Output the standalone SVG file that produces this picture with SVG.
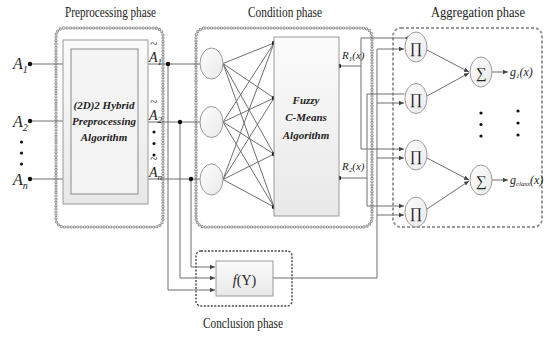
<svg xmlns="http://www.w3.org/2000/svg" width="547" height="337" viewBox="0 0 547 337">
<defs>
<linearGradient id="gbox" x1="0" y1="0" x2="0" y2="1">
<stop offset="0" stop-color="#fbfbfb"/><stop offset="1" stop-color="#e8e8e8"/>
</linearGradient>
<linearGradient id="gnode" x1="0" y1="0" x2="1" y2="1">
<stop offset="0" stop-color="#fdfdfd"/><stop offset="1" stop-color="#e9e9e9"/>
</linearGradient>
<marker id="arr" markerWidth="6" markerHeight="6" refX="5" refY="3" orient="auto" markerUnits="userSpaceOnUse">
<path d="M0,0.8 L5,3 L0,5.2 Z" fill="#444"/>
</marker>
</defs>
<style>
.lbl{font-family:"Liberation Serif","Times New Roman",serif;font-size:14px;fill:#222}
.it{font-family:"Liberation Serif","Times New Roman",serif;font-style:italic;fill:#222}
.bi{font-family:"Liberation Serif","Times New Roman",serif;font-style:italic;font-weight:bold;font-size:11px;fill:#222}
.sym{font-family:"Liberation Serif","DejaVu Serif",serif;font-size:15px;fill:#222}
.ln{stroke:#6e6e6e;stroke-width:1;fill:none}
.ring1{fill:none;stroke:#8c8c8c;stroke-width:3.2;stroke-dasharray:0 3.3;stroke-linecap:round}
.ring2{fill:none;stroke:#fff;stroke-width:1.3;stroke-dasharray:0 3.3;stroke-linecap:round}
.node{fill:url(#gnode);stroke:#9a9a9a;stroke-width:1}
.dot{fill:#111}
</style>

<!-- phase containers -->
<g id="preprocessing-phase">
<rect x="56" y="28" width="107" height="199" rx="8" class="ring1"/>
<rect x="56" y="28" width="107" height="199" rx="8" class="ring2"/>
<text class="lbl" x="110.5" y="17" text-anchor="middle" textLength="91" lengthAdjust="spacingAndGlyphs">Preprocessing phase</text>
</g>
<g id="condition-phase">
<rect x="196" y="28" width="176" height="199" rx="9" class="ring1"/>
<rect x="196" y="28" width="176" height="199" rx="9" class="ring2"/>
<text class="lbl" x="285" y="16.5" text-anchor="middle" textLength="74" lengthAdjust="spacingAndGlyphs">Condition phase</text>
</g>
<g id="aggregation-phase">
<rect x="393" y="28" width="149" height="199" rx="8" fill="none" stroke="#999" stroke-width="2" stroke-dasharray="3 2"/>
<text class="lbl" x="478" y="16.5" text-anchor="middle" textLength="94" lengthAdjust="spacingAndGlyphs">Aggregation phase</text>
</g>
<g id="conclusion-phase">
<rect x="196" y="251" width="96" height="55" rx="5" fill="none" stroke="#444" stroke-width="1.4" stroke-dasharray="2 1.5"/>
<text class="lbl" x="243" y="327.5" text-anchor="middle" textLength="80" lengthAdjust="spacingAndGlyphs">Conclusion phase</text>
</g>

<!-- connectors -->
<g id="connectors">
<line class="ln" x1="30" y1="64" x2="63" y2="64"/>
<line class="ln" x1="30" y1="121" x2="63" y2="121"/>
<line class="ln" x1="30" y1="179" x2="63" y2="179"/>
<line class="ln" x1="148" y1="64" x2="200" y2="64"/>
<line class="ln" x1="148" y1="122" x2="200" y2="122"/>
<line class="ln" x1="148" y1="179" x2="200" y2="179"/>
<path class="ln" d="M191,179 V267 H215" marker-end="url(#arr)"/>
<path class="ln" d="M180,122 V278 H215" marker-end="url(#arr)"/>
<path class="ln" d="M168,64 V290 H215" marker-end="url(#arr)"/>
<g class="ln">
<line x1="223" y1="63.5" x2="274" y2="43"/><line x1="223" y1="63.5" x2="274" y2="98"/><line x1="223" y1="63.5" x2="274" y2="154"/><line x1="223" y1="63.5" x2="274" y2="207"/>
<line x1="223" y1="122" x2="274" y2="43"/><line x1="223" y1="122" x2="274" y2="98"/><line x1="223" y1="122" x2="274" y2="154"/><line x1="223" y1="122" x2="274" y2="207"/>
<line x1="223" y1="179.5" x2="274" y2="43"/><line x1="223" y1="179.5" x2="274" y2="98"/><line x1="223" y1="179.5" x2="274" y2="154"/><line x1="223" y1="179.5" x2="274" y2="207"/>
</g>
<path class="ln" d="M339,66 H361"/>
<path class="ln" d="M404,38 H361 V149 H404" marker-start="url(#arr)" marker-end="url(#arr)"/>
<path class="ln" d="M339,178 H367"/>
<path class="ln" d="M404,94 H367 V206 H404" marker-start="url(#arr)" marker-end="url(#arr)"/>
<path class="ln" d="M273,278 H377 V49 H404" marker-end="url(#arr)"/>
<line class="ln" x1="377" y1="103" x2="404" y2="103" marker-end="url(#arr)"/>
<line class="ln" x1="377" y1="158" x2="404" y2="158" marker-end="url(#arr)"/>
<line class="ln" x1="377" y1="215" x2="404" y2="215" marker-end="url(#arr)"/>
<line class="ln" x1="427" y1="50" x2="469" y2="72" marker-end="url(#arr)"/>
<line class="ln" x1="427" y1="96" x2="469" y2="73" marker-end="url(#arr)"/>
<line class="ln" x1="427" y1="158" x2="469" y2="180" marker-end="url(#arr)"/>
<line class="ln" x1="427" y1="209" x2="469" y2="181" marker-end="url(#arr)"/>
<line class="ln" x1="492" y1="72" x2="508" y2="72" marker-end="url(#arr)"/>
<line class="ln" x1="492" y1="180" x2="508" y2="180" marker-end="url(#arr)"/>
<circle class="dot" cx="30" cy="64" r="2.2"/><circle class="dot" cx="30" cy="121" r="2.2"/><circle class="dot" cx="30" cy="179" r="2.2"/>
<circle class="dot" cx="168" cy="64" r="2.2"/><circle class="dot" cx="180" cy="122" r="2.2"/><circle class="dot" cx="191" cy="179" r="2.2"/>
<circle class="dot" cx="274" cy="43" r="2.2"/><circle class="dot" cx="274" cy="98" r="2.2"/><circle class="dot" cx="274" cy="154" r="2.2"/><circle class="dot" cx="274" cy="207" r="2.2"/>
<circle class="dot" cx="339" cy="66" r="2.2"/><circle class="dot" cx="339" cy="178" r="2.2"/>
</g>

<g id="inputs">
<text class="it" font-size="16" x="13" y="69">A<tspan font-size="10" dy="4">1</tspan></text>
<text class="it" font-size="16" x="13" y="127">A<tspan font-size="10" dy="4">2</tspan></text>
<text class="it" font-size="16" x="13" y="185">A<tspan font-size="10" dy="4">n</tspan></text>
<circle class="dot" cx="21.5" cy="142" r="1.6"/><circle class="dot" cx="21.5" cy="153" r="1.6"/><circle class="dot" cx="21.5" cy="164" r="1.6"/>
</g>

<g id="preprocessing-algorithm">
<rect x="63" y="40" width="85" height="164" fill="url(#gbox)" stroke="#9a9a9a"/>
<rect x="71" y="49" width="67" height="145" fill="#f4f4f4" stroke="#8a8a8a"/>
<text class="bi" x="104" y="108.5" text-anchor="middle">(2D)2 Hybrid</text>
<text class="bi" x="104" y="125" text-anchor="middle">Preprocessing</text>
<text class="bi" x="104" y="141" text-anchor="middle">Algorithm</text>
</g>

<g id="preprocessed-labels">
<text class="it" font-size="14" x="149" y="62">A<tspan font-size="9" dy="3">1</tspan></text>
<text class="it" font-size="13" x="150" y="48">~</text>
<text class="it" font-size="14" x="149" y="120">A<tspan font-size="9" dy="3">2</tspan></text>
<text class="it" font-size="13" x="150" y="106">~</text>
<text class="it" font-size="14" x="149" y="177">A<tspan font-size="9" dy="3">n</tspan></text>
<text class="it" font-size="13" x="150" y="163">~</text>
<circle class="dot" cx="154" cy="132" r="1.5"/><circle class="dot" cx="154" cy="143.5" r="1.5"/><circle class="dot" cx="154" cy="155" r="1.5"/>
</g>

<g id="membership-1"><ellipse class="node" cx="211.5" cy="63.5" rx="11.5" ry="15.5"/></g>
<g id="membership-2"><ellipse class="node" cx="211.5" cy="122" rx="11.5" ry="15.5"/></g>
<g id="membership-3"><ellipse class="node" cx="211.5" cy="179.5" rx="11.5" ry="15.5"/></g>

<g id="fcm">
<rect x="274" y="37" width="65" height="179" fill="url(#gbox)" stroke="#9a9a9a"/>
<text class="bi" x="306" y="104" text-anchor="middle">Fuzzy</text>
<text class="bi" x="306" y="121" text-anchor="middle">C-Means</text>
<text class="bi" x="306" y="138.5" text-anchor="middle">Algorithm</text>
<text class="it" font-size="11" x="342" y="59">R<tspan font-size="7" dy="2">1</tspan><tspan dy="-2">(x)</tspan></text>
<text class="it" font-size="11" x="342" y="170">R<tspan font-size="7" dy="2">2</tspan><tspan dy="-2">(x)</tspan></text>
</g>

<g id="prod-1"><ellipse class="node" cx="416" cy="47" rx="11" ry="15"/><text class="sym" x="416" y="52.5" text-anchor="middle">∏</text></g>
<g id="prod-2"><ellipse class="node" cx="416" cy="98.5" rx="11" ry="15"/><text class="sym" x="416" y="104" text-anchor="middle">∏</text></g>
<g id="prod-3"><ellipse class="node" cx="416" cy="155" rx="11" ry="15"/><text class="sym" x="416" y="160.5" text-anchor="middle">∏</text></g>
<g id="prod-4"><ellipse class="node" cx="416" cy="212" rx="11" ry="15"/><text class="sym" x="416" y="217.5" text-anchor="middle">∏</text></g>

<g id="sum-1"><ellipse class="node" cx="481" cy="72" rx="11" ry="15"/><text class="sym" x="481" y="77.5" text-anchor="middle">∑</text>
<text class="it" font-size="12" x="510" y="76">g<tspan font-size="7" dy="2">1</tspan><tspan dy="-2">(x)</tspan></text></g>
<g id="sum-2"><ellipse class="node" cx="481" cy="180" rx="11" ry="15"/><text class="sym" x="481" y="185.5" text-anchor="middle">∑</text>
<text class="it" font-size="12" x="510" y="184">g<tspan font-size="7" dy="2">class</tspan><tspan dy="-2">(x)</tspan></text></g>
<g id="ellipsis">
<circle class="dot" cx="481" cy="113" r="1.6"/><circle class="dot" cx="481" cy="124.5" r="1.6"/><circle class="dot" cx="481" cy="136" r="1.6"/>
<circle class="dot" cx="518" cy="111" r="1.6"/><circle class="dot" cx="518" cy="123" r="1.6"/><circle class="dot" cx="518" cy="135" r="1.6"/>
</g>

<g id="conclusion">
<rect x="216" y="261" width="57" height="35" fill="url(#gbox)" stroke="#9a9a9a"/>
<text class="lbl" font-size="17" x="244.5" y="285" text-anchor="middle"><tspan font-style="italic">f</tspan>(Y)</text>
</g>
</svg>
